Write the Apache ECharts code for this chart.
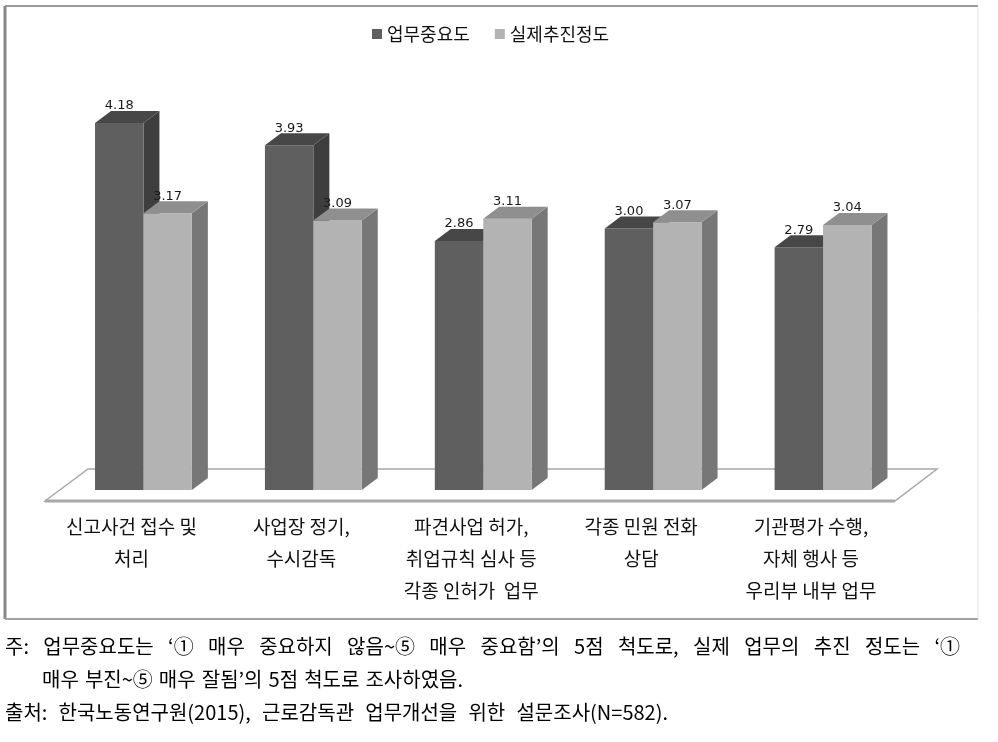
<!DOCTYPE html>
<html><head><meta charset="utf-8">
<script src="https://cdn.jsdelivr.net/npm/echarts@6/dist/echarts.min.js"></script>
<style>html,body{margin:0;padding:0;background:#fff}#c{width:998px;height:742px}</style>
</head><body><div id="c"></div>
<script>
const categories = [
  '신고사건 접수 및\n처리',
  '사업장 정기,\n수시감독',
  '파견사업 허가,\n취업규칙 심사 등\n각종 인허가  업무',
  '각종 민원 전화\n상담',
  '기관평가 수행,\n자체 행사 등\n우리부 내부 업무'
];
const seriesNames = ['업무중요도', '실제추진정도'];
const importance = [4.18, 3.93, 2.86, 3.00, 2.79];
const execution = [3.17, 3.09, 3.11, 3.07, 3.04];
const footLines = [
  '주: 업무중요도는 ‘① 매우 중요하지 않음~⑤ 매우 중요함’의 5점 척도로, 실제 업무의 추진 정도는 ‘①',
  '매우 부진~⑤ 매우 잘됨’의 5점 척도로 조사하였음.',
  '출처: 한국노동연구원(2015), 근로감독관 업무개선을 위한 설문조사(N=582).'
];

const KFONT = '"Noto Sans CJK KR", sans-serif';
const faces = [
  {front: '#5f5f5f', top: '#474747', side: '#3e3e3e'},
  {front: '#b3b3b3', top: '#8f8f8f', side: '#777777'}
];
const DX = 16, DY = -12, LIFT = 7;

function makeRender(k) {
  const c = faces[k];
  return function (params, api) {
    const i = api.value(0), v = api.value(1);
    const top = api.coord([i, v]);
    const base = api.coord([i, 0]);
    const band = api.size([1, 0])[0];
    const w = band * 0.285;
    const cx = top[0];
    const x0 = k === 0 ? cx - w : cx;
    const x1 = x0 + w;
    const yT = top[1], yB = base[1] - LIFT;
    return {
      type: 'group',
      children: [
        {type: 'polygon', shape: {points: [[x1, yT], [x1 + DX, yT + DY], [x1 + DX, yB + DY], [x1, yB]]}, style: {fill: c.side}},
        {type: 'rect', shape: {x: x0, y: yT, width: w, height: yB - yT}, style: {fill: c.front}},
        {type: 'polygon', shape: {points: [[x0, yT], [x1, yT], [x1 + DX, yT + DY], [x0 + DX, yT + DY]]}, style: {fill: c.top}},
        {type: 'text', x: x0 + w / 2, y: yT + DY - 5, style: {text: v.toFixed(2), align: 'center', verticalAlign: 'middle', font: '13px "DejaVu Sans"', fill: '#1a1a1a'}}
      ]
    };
  };
}

// footnote lines with word spacing stretched to a target span
const FOOT_FONT = '20px "Noto Sans CJK KR"';
const mctx = document.createElement('canvas').getContext('2d');
mctx.font = FOOT_FONT;
function justifiedLine(text, xStart, xEnd, yTop) {
  const words = text.split(' ');
  const widths = words.map(w => mctx.measureText(w).width);
  const total = widths.reduce((a, b) => a + b, 0);
  const gap = words.length > 1 ? (xEnd - xStart - total) / (words.length - 1) : 0;
  const els = [];
  let x = xStart;
  words.forEach((w, j) => {
    els.push({type: 'text', x: x, y: yTop, style: {text: w, font: FOOT_FONT, fill: '#000', verticalAlign: 'top'}});
    x += widths[j] + gap;
  });
  return els;
}

const chart = echarts.init(document.getElementById('c'), null, {renderer: 'canvas'});
const graphics = [
  {type: 'line', shape: {x1: 5, y1: 6, x2: 978, y2: 6}, style: {stroke: '#9a9a9a', lineWidth: 2}, z: 0},
  {type: 'line', shape: {x1: 5, y1: 6, x2: 5, y2: 619}, style: {stroke: '#888888', lineWidth: 3}, z: 0},
  {type: 'line', shape: {x1: 5, y1: 619, x2: 978, y2: 619}, style: {stroke: '#a0a0a0', lineWidth: 2}, z: 0},
  {type: 'line', shape: {x1: 978, y1: 6, x2: 978, y2: 619}, style: {stroke: '#e2e2e2', lineWidth: 1}, z: 0},
  {type: 'polygon', shape: {points: [[45, 501], [88, 469], [937, 469], [895, 501]]}, style: {fill: '#ffffff', stroke: '#a8a8a8', lineWidth: 1.5}, z: 0},
  {type: 'line', shape: {x1: 45, y1: 501, x2: 895, y2: 501}, style: {stroke: '#a8a8a8', lineWidth: 3}, z: 0}
].concat(
  justifiedLine(footLines[0], 5, 960, 636),
  justifiedLine(footLines[1], 42, 463, 669),
  justifiedLine(footLines[2], 5, 668, 702)
);

chart.setOption({
  animation: false,
  backgroundColor: '#ffffff',
  legend: {
    left: 367, top: 20,
    itemWidth: 10, itemHeight: 10, itemGap: 25,
    icon: 'rect',
    textStyle: {fontFamily: KFONT, fontSize: 18, color: '#111'},
    data: seriesNames
  },
  grid: {left: 58.5, right: 90, top: 49.5, bottom: 245},
  xAxis: {
    type: 'category', data: categories,
    axisLine: {show: false}, axisTick: {show: false},
    axisLabel: {interval: 0, margin: 14, fontFamily: KFONT, fontSize: 19, lineHeight: 32, color: '#111', padding: [0, 24, 0, 0]}
  },
  yAxis: {type: 'value', min: 0, max: 5, interval: 1, show: false, splitLine: {show: false}},
  graphic: graphics,
  series: [
    {name: seriesNames[0], type: 'custom', itemStyle: {color: faces[0].front}, renderItem: makeRender(0), data: importance.map((v, i) => [i, v]), encode: {x: 0, y: 1}},
    {name: seriesNames[1], type: 'custom', itemStyle: {color: faces[1].front}, renderItem: makeRender(1), data: execution.map((v, i) => [i, v]), encode: {x: 0, y: 1}}
  ]
});
</script></body></html>
